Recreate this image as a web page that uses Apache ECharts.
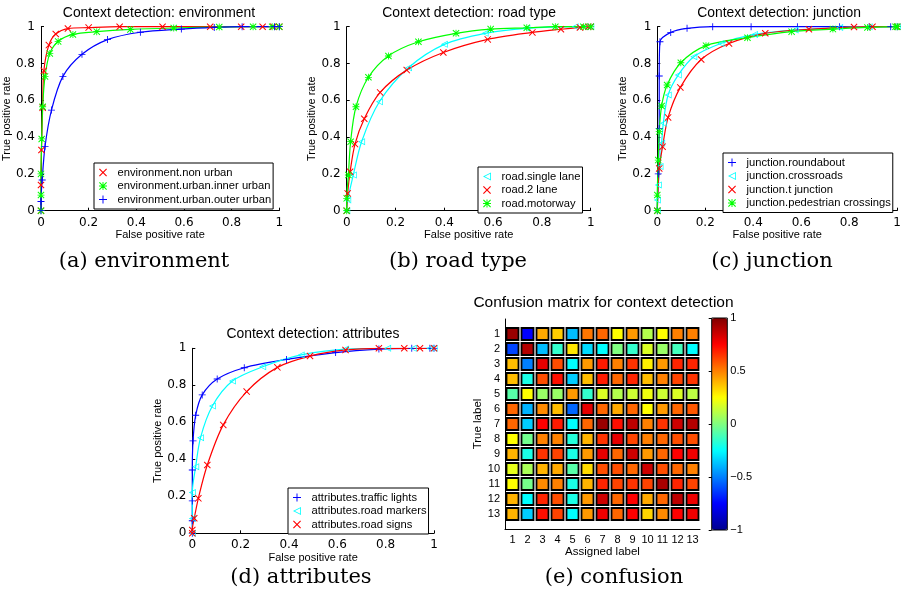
<!DOCTYPE html>
<html>
<head>
<meta charset="utf-8">
<script src="https://cdn.jsdelivr.net/npm/echarts@6/dist/echarts.min.js"></script>
<style>
  html, body { margin: 0; background: #fff; }
  #chart { width: 904px; height: 598px; }
</style>
</head>
<body>
<div id="chart"></div>
<script>
// ---- data: ROC curves [false positive rate, true positive rate] ----
const envNonUrban = [[0,0],[0,0.14],[0.002,0.33],[0.007,0.56],[0.012,0.76],[0.033,0.90],[0.062,0.96],[0.113,0.99],[0.2,0.995],[0.33,1],[0.51,1],[0.71,1],[0.84,1],[0.93,1],[0.975,1],[1,1]]
const envInnerUrban = [[0,0],[0,0.085],[0,0.2],[0.003,0.39],[0.007,0.565],[0.017,0.73],[0.037,0.855],[0.072,0.92],[0.134,0.958],[0.234,0.973],[0.375,0.985],[0.557,0.993],[0.748,0.998],[0.89,1],[0.97,1],[1,1]]
const envOuterUrban = [[0,0],[0,0.05],[0.005,0.167],[0.017,0.35],[0.044,0.547],[0.092,0.73],[0.172,0.85],[0.279,0.93],[0.417,0.97],[0.589,0.987],[0.727,0.996],[0.844,1],[0.98,1],[1,1]]

const roadSingleLane = [[0,0],[0.004,0.058],[0.027,0.194],[0.061,0.375],[0.134,0.592],[0.253,0.777],[0.4,0.904],[0.567,0.964],[0.738,0.991],[0.936,1],[0.977,1],[1,1]]
const road2Lane = [[0,0],[0.004,0.094],[0.014,0.212],[0.034,0.362],[0.072,0.5],[0.137,0.643],[0.246,0.764],[0.396,0.86],[0.578,0.931],[0.761,0.969],[0.878,0.986],[0.956,0.996],[0.99,1],[1,1]]
const roadMotorway = [[0,0],[0,0.067],[0.007,0.194],[0.016,0.375],[0.038,0.565],[0.089,0.725],[0.171,0.841],[0.294,0.918],[0.448,0.964],[0.59,0.987],[0.738,0.994],[0.855,1],[0.97,1],[1,1]]

const junctionRoundabout = [[0,0],[0.004,0.2],[0.008,0.447],[0.008,0.732],[0.011,0.918],[0.056,0.969],[0.124,0.991],[0.231,1],[0.391,1],[0.584,1],[0.76,1],[0.883,1],[0.973,1],[1,1]]
const junctionCrossroads = [[0,0],[0,0.058],[0.004,0.14],[0.011,0.24],[0.018,0.366],[0.025,0.475],[0.045,0.629],[0.087,0.737],[0.152,0.837],[0.265,0.909],[0.405,0.958],[0.574,0.982],[0.76,0.995],[0.883,1],[1,1]]
const junctionT = [[0,0],[0.008,0.23],[0.022,0.348],[0.045,0.507],[0.096,0.67],[0.183,0.822],[0.299,0.909],[0.45,0.964],[0.632,0.986],[0.82,0.998],[0.897,1],[1,1]]
const junctionPedestrian = [[0,0],[0,0.085],[0.004,0.275],[0.008,0.43],[0.018,0.569],[0.041,0.683],[0.098,0.804],[0.203,0.897],[0.376,0.94],[0.56,0.973],[0.732,0.987],[0.876,0.996],[0.993,1],[1,1]]

const attrTrafficLights = [[0,0],[0,0.068],[0,0.175],[0,0.342],[0.003,0.5],[0.014,0.638],[0.041,0.748],[0.103,0.834],[0.215,0.895],[0.39,0.94],[0.593,0.977],[0.772,0.996],[0.908,1],[0.983,1],[1,1]]
const attrRoadMarkers = [[0,0],[0,0.08],[0,0.22],[0.014,0.36],[0.034,0.517],[0.083,0.688],[0.166,0.823],[0.291,0.9],[0.45,0.964],[0.634,0.996],[0.808,1],[0.914,1],[0.983,1],[1,1]]
const attrRoadSigns = [[0,0],[0,0.018],[0.008,0.081],[0.025,0.189],[0.062,0.369],[0.128,0.586],[0.225,0.766],[0.352,0.897],[0.487,0.958],[0.634,0.991],[0.772,1],[0.877,1],[0.942,1],[1,1]]

// ---- data: confusion matrix (rows = true label, cols = assigned label) ----
const matrixLabels = ['1','2','3','4','5','6','7','8','9','10','11','12','13']
const confusionRows = [
  [0.95,-0.75,0.42,0.35,-0.38,0.52,0.55,0.25,0.45,0.1,0.25,0.5,0.5],
  [-0.62,0.9,-0.38,-0.15,0.3,-0.32,-0.25,0.0,-0.15,0.18,0.05,-0.12,-0.25],
  [0.38,-0.5,0.8,0.6,-0.25,0.45,0.7,0.5,0.65,0.28,0.45,0.68,0.68],
  [0.38,-0.2,0.6,0.72,-0.35,0.38,0.7,0.55,0.68,0.38,0.5,0.62,0.65],
  [-0.08,0.25,0.05,0.05,0.45,-0.15,0.18,0.1,0.15,0.22,0.15,0.18,0.12],
  [0.55,-0.4,0.48,0.38,-0.55,0.8,0.55,0.42,0.55,0.25,0.45,0.55,0.58],
  [0.55,-0.35,0.75,0.7,-0.25,0.55,0.95,0.72,0.88,0.5,0.65,0.85,0.9],
  [0.25,-0.03,0.5,0.5,-0.18,0.4,0.65,0.8,0.62,0.5,0.55,0.6,0.6],
  [0.4,-0.2,0.65,0.62,-0.2,0.45,0.8,0.55,0.85,0.45,0.55,0.75,0.78],
  [0.2,0.08,0.4,0.42,-0.08,0.32,0.6,0.6,0.55,0.85,0.6,0.55,0.5],
  [0.25,-0.02,0.48,0.5,-0.2,0.4,0.68,0.62,0.65,0.62,0.92,0.68,0.62],
  [0.4,-0.25,0.68,0.6,-0.2,0.45,0.85,0.55,0.75,0.42,0.55,0.88,0.78],
  [0.4,-0.35,0.72,0.62,-0.25,0.45,0.78,0.55,0.75,0.33,0.48,0.75,0.78]
]
const colorbarTicks = [-1, -0.5, 0, 0.5, 1]

// ---- styling ----
const FONT = '"Liberation Sans", Arial, sans-serif'
const TICKFONT = '"DejaVu Sans", sans-serif'
const SERIF = '"DejaVu Serif", serif'
const JET = ['#00008f','#0000ff','#0080ff','#00ffff','#80ff80','#ffff00','#ff8000','#ff0000','#800000']

// matlab style markers (filled outlines so they take the series colour)
const SYM_X = 'path://M1,0L5,4L9,0L10,1L6,5L10,9L9,10L5,6L1,10L0,9L4,5L0,1Z'
const SYM_PLUS = 'path://M4.4,0H5.6V4.4H10V5.6H5.6V10H4.4V5.6H0V4.4H4.4Z'
const SYM_STAR = SYM_PLUS + ' ' + SYM_X.replace('path://', '')
const SYM_TRI = 'path://M0,5L10,0L10,10Z M2.3,5L9,8.4L9,1.6Z'

const RED = '#ff0000', GREEN = '#00ff00', BLUE = '#0000ff', CYAN = '#00ffff'

const panels = [
  { title: 'Context detection: environment', grid: {left: 37.5, top: 26.7, width: 241.8, height: 184},
    titleAt: [159, 12.7], legendAt: [94, 163],
    curves: [
      ['environment.non urban', envNonUrban, RED, SYM_X],
      ['environment.urban.inner urban', envInnerUrban, GREEN, SYM_STAR],
      ['environment.urban.outer urban', envOuterUrban, BLUE, SYM_PLUS]
    ] },
  { title: 'Context detection: road type', grid: {left: 346.7, top: 26.7, width: 244, height: 184},
    titleAt: [469, 12.7], legendAt: [478, 167],
    curves: [
      ['road.single lane', roadSingleLane, CYAN, SYM_TRI],
      ['road.2 lane', road2Lane, RED, SYM_X],
      ['road.motorway', roadMotorway, GREEN, SYM_STAR]
    ] },
  { title: 'Context detection: junction', grid: {left: 657.3, top: 26.7, width: 242.7, height: 184},
    titleAt: [779, 12.7], legendAt: [723, 153],
    curves: [
      ['junction.roundabout', junctionRoundabout, BLUE, SYM_PLUS],
      ['junction.crossroads', junctionCrossroads, CYAN, SYM_TRI],
      ['junction.t junction', junctionT, RED, SYM_X],
      ['junction.pedestrian crossings', junctionPedestrian, GREEN, SYM_STAR]
    ] },
  { title: 'Context detection: attributes', grid: {left: 192.3, top: 348.3, width: 241.7, height: 185},
    titleAt: [313, 334.3], legendAt: [288, 488],
    curves: [
      ['attributes.traffic lights', attrTrafficLights, BLUE, SYM_PLUS],
      ['attributes.road markers', attrRoadMarkers, CYAN, SYM_TRI],
      ['attributes.road signs', attrRoadSigns, RED, SYM_X]
    ] }
]

const captions = [
  ['(a) environment', 144, 262],
  ['(b) road type', 458, 262],
  ['(c) junction', 772, 262],
  ['(d) attributes', 301, 578],
  ['(e) confusion', 614, 578]
]

const grid = [], xAxis = [], yAxis = [], series = [], legend = [], graphic = []

const txt = (text, x, y, size, family) => ({
  type: 'text', x: x, y: y, silent: true,
  style: {text: text, fontSize: size, fontFamily: family, fill: '#000', align: 'center', verticalAlign: 'middle'}
})

panels.forEach((p, i) => {
  grid.push(p.grid)
  xAxis.push({
    type: 'value', gridIndex: i, min: 0, max: 1, interval: 0.2,
    name: 'False positive rate', nameLocation: 'middle', nameGap: 17,
    nameTextStyle: {fontFamily: FONT, fontSize: 11, color: '#000'},
    axisLine: {onZero: false, lineStyle: {color: '#000', width: 1}},
    axisTick: {inside: true, length: 3, lineStyle: {color: '#000'}},
    axisLabel: {fontFamily: TICKFONT, fontSize: 12, color: '#000', margin: 6},
    splitLine: {show: false}
  })
  yAxis.push({
    type: 'value', gridIndex: i, min: 0, max: 1, interval: 0.2,
    name: 'True positive rate', nameLocation: 'middle', nameGap: 19, nameRotate: 90,
    nameTextStyle: {fontFamily: FONT, fontSize: 11, color: '#000'},
    axisLine: {show: true, onZero: false, lineStyle: {color: '#000', width: 1}},
    axisTick: {show: true, inside: true, length: 3, lineStyle: {color: '#000'}},
    axisLabel: {fontFamily: TICKFONT, fontSize: 12, color: '#000', margin: 6},
    splitLine: {show: false}
  })
  p.curves.forEach(c => {
    series.push({
      type: 'line', name: c[0], xAxisIndex: i, yAxisIndex: i, data: c[1],
      smooth: 0.3, symbol: c[3], symbolSize: 7, showSymbol: true,
      lineStyle: {color: c[2], width: 1.2},
      itemStyle: {color: c[2], borderWidth: 0},
      emphasis: {disabled: true}, silent: true
    })
  })
  legend.push({
    orient: 'vertical', left: p.legendAt[0], top: p.legendAt[1],
    padding: [4, 2, 4, 5], itemGap: 2.5, itemWidth: 19, itemHeight: 8,
    borderColor: '#000', borderWidth: 1, borderRadius: 0, backgroundColor: '#fff',
    selectedMode: false,
    textStyle: {fontFamily: FONT, fontSize: 11.2, color: '#000'},
    data: p.curves.map(c => ({name: c[0], icon: c[3]}))
  })
  graphic.push(txt(p.title, p.titleAt[0], p.titleAt[1], 13.9, FONT))
})

// ---- confusion matrix ----
grid.push({left: 505, top: 319, width: 195, height: 210})
const matrixX = xAxis.length
xAxis.push({
  type: 'category', gridIndex: 4, data: matrixLabels, position: 'bottom',
  name: 'Assigned label', nameLocation: 'middle', nameGap: 17,
  nameTextStyle: {fontFamily: FONT, fontSize: 11.5, color: '#000'},
  axisLine: {onZero: false, lineStyle: {color: '#000'}},
  axisTick: {alignWithLabel: true, inside: true, length: 7, lineStyle: {color: '#777', type: 'dotted'}},
  axisLabel: {fontFamily: FONT, fontSize: 11, color: '#000', margin: 5, interval: 0}
})
const matrixY = yAxis.length
yAxis.push({
  type: 'value', gridIndex: 4, min: 0, max: 14, interval: 1, inverse: true,
  name: 'True label', nameLocation: 'middle', nameGap: 16.5, nameRotate: 90,
  nameTextStyle: {fontFamily: FONT, fontSize: 11.5, color: '#000'},
  axisLine: {show: true, onZero: false, lineStyle: {color: '#000'}},
  axisTick: {show: false},
  axisLabel: {fontFamily: FONT, fontSize: 11, color: '#000', margin: 5,
    formatter: v => (v >= 1 && v <= 13) ? String(v) : ''},
  splitLine: {show: false}
})
const matrixData = []
confusionRows.forEach((row, r) => row.forEach((v, c) => matrixData.push([c, r + 1, v])))
const matrixSeriesIndex = series.length
series.push({
  type: 'scatter', xAxisIndex: matrixX, yAxisIndex: matrixY, data: matrixData,
  symbol: 'rect', symbolSize: 12,
  itemStyle: {borderColor: '#000', borderWidth: 1.8, opacity: 1},
  emphasis: {disabled: true}, silent: true
})
graphic.push(txt('Confusion matrix for context detection', 603.5, 302.5, 15.5, FONT))

// ---- colorbar ----
grid.push({left: 711.7, top: 318, width: 15.6, height: 212, show: true, borderColor: '#000', borderWidth: 1, z: 10})
xAxis.push({type: 'value', gridIndex: 5, min: 0, max: 1, show: false})
yAxis.push({
  type: 'value', gridIndex: 5, min: colorbarTicks[0], max: colorbarTicks[colorbarTicks.length - 1], interval: 0.5,
  position: 'right', z: 10,
  axisLine: {show: false},
  axisTick: {show: true, inside: true, length: 3, lineStyle: {color: '#000'}},
  axisLabel: {fontFamily: FONT, fontSize: 11, color: '#000', margin: 3,
    formatter: v => String(v).replace('-', '\u2212')},
  splitLine: {show: false}
})

captions.forEach(c => graphic.push(txt(c[0], c[1], c[2], 21, SERIF)))

const chart = echarts.init(document.getElementById('chart'))
chart.setOption({
  animation: false,
  backgroundColor: '#fff',
  grid: grid,
  xAxis: xAxis,
  yAxis: yAxis,
  legend: legend,
  visualMap: {
    type: 'continuous', min: -1, max: 1, seriesIndex: matrixSeriesIndex, dimension: 2,
    calculable: false, hoverLink: false, realtime: false,
    left: 711.7, top: 318, itemWidth: 15.6, itemHeight: 212, padding: 0,
    inRange: {color: JET}, text: null, textStyle: {fontSize: 0}
  },
  series: series,
  graphic: graphic
})
</script>
</body>
</html>
